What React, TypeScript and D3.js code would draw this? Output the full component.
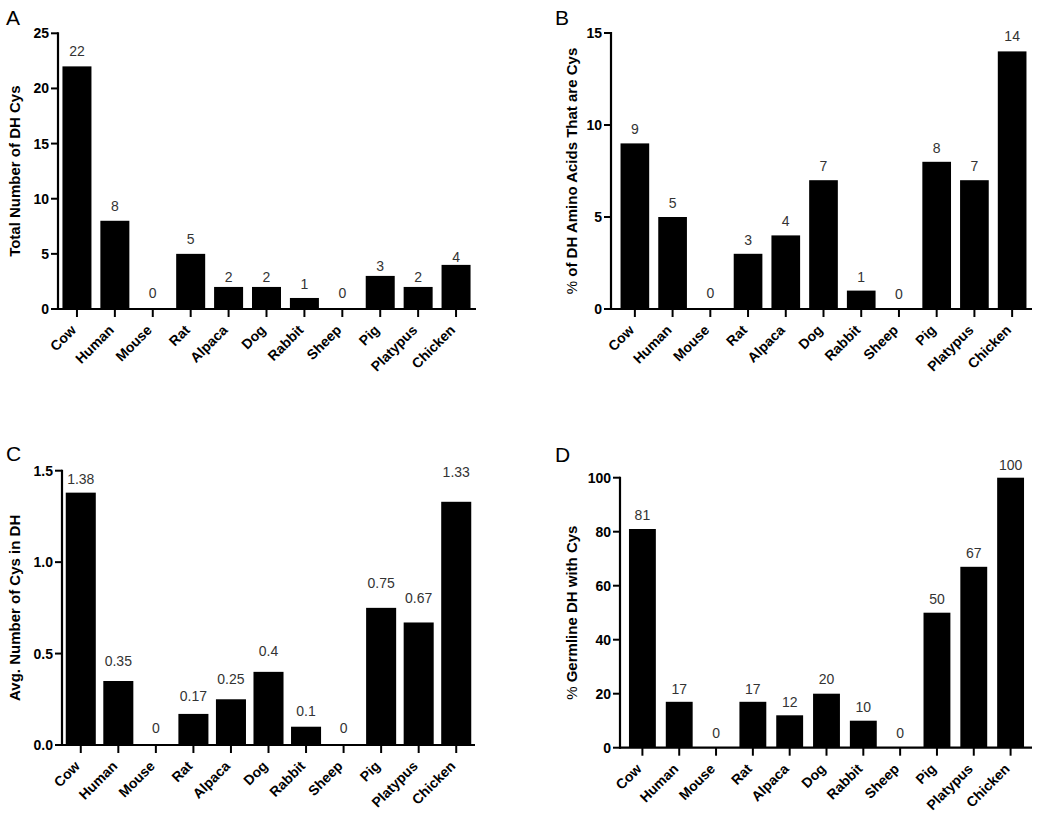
import React from "react";
import * as d3 from "d3";

const categories = ["Cow", "Human", "Mouse", "Rat", "Alpaca", "Dog", "Rabbit", "Sheep", "Pig", "Platypus", "Chicken"];

const totalDHCys = [22, 8, 0, 5, 2, 2, 1, 0, 3, 2, 4];
const pctAminoCys = [9, 5, 0, 3, 4, 7, 1, 0, 8, 7, 14];
const avgCysInDH = [1.38, 0.35, 0, 0.17, 0.25, 0.4, 0.1, 0, 0.75, 0.67, 1.33];
const pctGermlineCys = [81, 17, 0, 17, 12, 20, 10, 0, 50, 67, 100];

const labelsA = ["22", "8", "0", "5", "2", "2", "1", "0", "3", "2", "4"];
const labelsB = ["9", "5", "0", "3", "4", "7", "1", "0", "8", "7", "14"];
const labelsC = ["1.38", "0.35", "0", "0.17", "0.25", "0.4", "0.1", "0", "0.75", "0.67", "1.33"];
const labelsD = ["81", "17", "0", "17", "12", "20", "10", "0", "50", "67", "100"];

const ticksA = [0, 5, 10, 15, 20, 25];
const ticksB = [0, 5, 10, 15];
const ticksC = [0, 0.5, 1.0, 1.5];
const ticksD = [0, 20, 40, 60, 80, 100];

// layout (pixels) – kept separate from data
const gapA = [10, 10, 11, 10, 5, 5, 8.5, 11, 5, 5, 3];
const gapB = [9, 9, 11, 9, 9, 9, 9, 10, 9, 9, 10];
const gapC = [8.7, 15, 11.7, 12.7, 15, 15.7, 11, 11.7, 20, 19.5, 24.7];
const gapD = [9, 8.3, 10, 8.3, 8.3, 10, 8.3, 10, 9, 9, 7.7];

const FONT = "'Liberation Sans', Arial, Helvetica, sans-serif";

type PanelProps = {
  letter: string;
  letterX: number;
  letterY: number;
  title: string;
  titlePct?: boolean;
  titleX: number;
  values: number[];
  labels: string[];
  ticks: number[];
  tickFmt: (v: number) => string;
  yMax: number;
  axisX: number;
  axisEnd: number;
  bandStart: number;
  bandEnd: number;
  top: number;
  bottom: number;
  padInner: number;
  gaps: number[];
};

function Panel(p: PanelProps) {
  const x = d3
    .scaleBand<string>()
    .domain(categories)
    .range([p.bandStart, p.bandEnd])
    .paddingInner(p.padInner)
    .paddingOuter(p.padInner / 2);
  const y = d3.scaleLinear().domain([0, p.yMax]).range([p.bottom, p.top]);
  const bw = x.bandwidth();
  const titleY = (p.top + p.bottom) / 2;
  return (
    <g>
      <text x={p.letterX} y={p.letterY} fontSize={21} fontFamily={FONT} fill="#000">
        {p.letter}
      </text>
      {categories.map((c, i) => (
        <rect key={c} x={x(c)} y={y(p.values[i])} width={bw} height={p.bottom - y(p.values[i])} fill="#000" />
      ))}
      {categories.map((c, i) => (
        <text
          key={"v" + c}
          x={(x(c) as number) + bw / 2}
          y={y(p.values[i]) - p.gaps[i]}
          textAnchor="middle"
          fontSize={14}
          fontFamily={FONT}
          fill="#333"
        >
          {p.labels[i]}
        </text>
      ))}
      {/* y axis */}
      <line x1={p.axisX} x2={p.axisX} y1={y(p.yMax) - 1} y2={p.bottom + 1} stroke="#000" strokeWidth={2.2} />
      {p.ticks.map((t) => (
        <g key={"t" + t}>
          <line x1={p.axisX - 7} x2={p.axisX} y1={y(t)} y2={y(t)} stroke="#000" strokeWidth={2} />
          <text
            x={p.axisX - 9}
            y={y(t)}
            dy="0.36em"
            textAnchor="end"
            fontSize={14}
            fontWeight="bold"
            fontFamily={FONT}
            fill="#000"
          >
            {p.tickFmt(t)}
          </text>
        </g>
      ))}
      {/* x axis */}
      <line x1={p.axisX} x2={p.axisEnd} y1={p.bottom} y2={p.bottom} stroke="#000" strokeWidth={2.2} />
      {categories.map((c) => {
        const cx = (x(c) as number) + bw / 2;
        return (
          <g key={"x" + c}>
            <line x1={cx} x2={cx} y1={p.bottom} y2={p.bottom + 8} stroke="#000" strokeWidth={2} />
            <text
              transform={`translate(${cx},${p.bottom + 22}) rotate(-45)`}
              textAnchor="end"
              fontSize={14}
              fontWeight="bold"
              fontFamily={FONT}
              fill="#000"
            >
              {c}
            </text>
          </g>
        );
      })}
      <text
        transform={`translate(${p.titleX},${titleY}) rotate(-90)`}
        textAnchor="middle"
        fontSize={15}
        fontWeight="bold"
        fontFamily={FONT}
        fill="#000"
      >
        {p.titlePct ? (
          <>
            <tspan fontWeight="normal">%</tspan>
            {" " + p.title}
          </>
        ) : (
          p.title
        )}
      </text>
    </g>
  );
}

export default function App() {
  return (
    <svg
      width={1040}
      height={819}
      style={{ position: "absolute", left: 0, top: 0, background: "#fff" }}
    >
      <rect width={1040} height={819} fill="#fff" />
      <Panel
        letter="A"
        letterX={6}
        letterY={25}
        title="Total Number of DH Cys"
        titleX={20}
        values={totalDHCys}
        labels={labelsA}
        ticks={ticksA}
        tickFmt={(v) => String(v)}
        yMax={25}
        axisX={58}
        axisEnd={476}
        bandStart={58}
        bandEnd={475}
        top={33.3}
        bottom={309}
        padInner={0.235}
        gaps={gapA}
      />
      <Panel
        letter="B"
        letterX={555}
        letterY={25}
        title="of DH Amino Acids That are Cys"
        titlePct
        titleX={577}
        values={pctAminoCys}
        labels={labelsB}
        ticks={ticksB}
        tickFmt={(v) => String(v)}
        yMax={15}
        axisX={611}
        axisEnd={1032}
        bandStart={616}
        bandEnd={1031}
        top={33}
        bottom={309}
        padInner={0.24}
        gaps={gapB}
      />
      <Panel
        letter="C"
        letterX={6}
        letterY={461}
        title="Avg. Number of Cys in DH"
        titleX={20}
        values={avgCysInDH}
        labels={labelsC}
        ticks={ticksC}
        tickFmt={(v) => v.toFixed(1)}
        yMax={1.5}
        axisX={62}
        axisEnd={475}
        bandStart={62}
        bandEnd={475}
        top={470.7}
        bottom={745}
        padInner={0.2}
        gaps={gapC}
      />
      <Panel
        letter="D"
        letterX={555}
        letterY={462}
        title="Germline DH with Cys"
        titlePct
        titleX={577}
        values={pctGermlineCys}
        labels={labelsD}
        ticks={ticksD}
        tickFmt={(v) => String(v)}
        yMax={100}
        axisX={620}
        axisEnd={1032}
        bandStart={624}
        bandEnd={1029}
        top={477.7}
        bottom={747.7}
        padInner={0.27}
        gaps={gapD}
      />
    </svg>
  );
}
